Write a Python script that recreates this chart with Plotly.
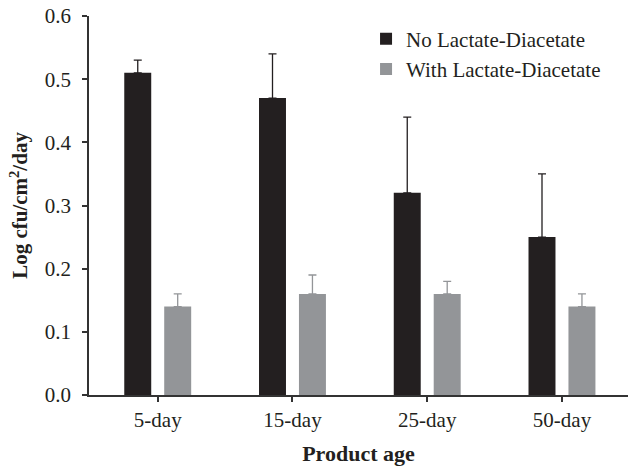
import plotly.graph_objects as go

categories = ["5-day", "15-day", "25-day", "50-day"]
no_lactate = [0.51, 0.47, 0.32, 0.25]
no_lactate_err = [0.02, 0.07, 0.12, 0.10]
with_lactate = [0.14, 0.16, 0.16, 0.14]
with_lactate_err = [0.02, 0.03, 0.02, 0.02]
y_ticks = [0.0, 0.1, 0.2, 0.3, 0.4, 0.5, 0.6]

BLACK = "#231f20"
GRAY = "#939598"
FONT = "Liberation Serif"

fig = go.Figure()
fig.add_trace(go.Bar(
    x=categories, y=no_lactate, name="No Lactate-Diacetate",
    marker=dict(color=BLACK, line=dict(width=0)),
    error_y=dict(type="data", array=no_lactate_err, arrayminus=[0]*4, symmetric=False,
                 color=BLACK, thickness=1.3, width=4),
))
fig.add_trace(go.Bar(
    x=categories, y=with_lactate, name="With Lactate-Diacetate",
    marker=dict(color=GRAY, line=dict(width=0)),
    error_y=dict(type="data", array=with_lactate_err, arrayminus=[0]*4, symmetric=False,
                 color=GRAY, thickness=1.3, width=4),
))

fig.update_layout(
    width=628, height=466,
    margin=dict(l=89, r=0, t=16, b=71, autoexpand=False),
    paper_bgcolor="white", plot_bgcolor="white",
    barmode="group", bargap=0.407, bargroupgap=0.325,
    font=dict(family=FONT, size=21, color=BLACK),
    legend=dict(x=0.514, y=0.993, xanchor="left", yanchor="top",
                bgcolor="rgba(0,0,0,0)", font=dict(size=21, family=FONT, color=BLACK),
                tracegroupgap=0),
    showlegend=True,
)
fig.update_xaxes(
    range=[-0.51, 3.49], showline=True, linecolor="#333333", linewidth=1.5,
    ticks="outside", ticklen=5, tickcolor="#333333", tickwidth=1.5,
    showgrid=False, zeroline=False, automargin=False, ticklabeloverflow="allow",
    tickfont=dict(size=21, family=FONT, color=BLACK),
    title=dict(text="<b>Product age</b>", font=dict(size=22, family=FONT, color=BLACK), standoff=16),
)
fig.update_yaxes(
    range=[0, 0.6], tickvals=y_ticks, ticktext=[f"{v:.1f}" for v in y_ticks],
    showline=True, linecolor="#333333", linewidth=1.5,
    ticks="outside", ticklen=5, tickcolor="#333333", tickwidth=1.5,
    showgrid=False, zeroline=False, automargin=False, ticklabeloverflow="allow",
    ticklabelstandoff=7,
    tickfont=dict(size=21, family=FONT, color=BLACK),
    title=dict(text="<b>Log cfu/cm<sup>2</sup>/day</b>", font=dict(size=21, family=FONT, color=BLACK), standoff=11),
)

fig.write_html("out.html", config={"displayModeBar": False},
               post_script="document.body.style.margin='0';")
